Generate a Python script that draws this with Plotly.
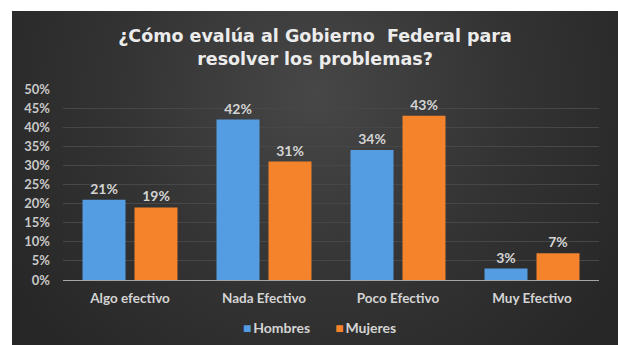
import base64
import plotly.graph_objects as go

categories = ["Algo efectivo", "Nada Efectivo", "Poco Efectivo", "Muy Efectivo"]
hombres = [0.21, 0.42, 0.34, 0.03]
mujeres = [0.19, 0.31, 0.43, 0.07]
tick_vals = [0, 0.05, 0.10, 0.15, 0.20, 0.25, 0.30, 0.35, 0.40, 0.45, 0.50]
tick_text = ["0%", "5%", "10%", "15%", "20%", "25%", "30%", "35%", "40%", "45%", "50%"]
title_lines = ["¿Cómo evalúa al Gobierno  Federal para", "resolver los problemas?"]
series_names = ["Hombres", "Mujeres"]
series_colors = ["#559de3", "#f5832b"]

W, H = 618, 345
ML, MR, MT, MB = 63, 19, 89, 65
PW = W - ML - MR
PH = H - MT - MB
EDGE = "#272727"

def px_x(p):
    return (p - ML) / PW

def px_y(p):
    return (H - MB - p) / PH

svg = (
    f'<svg xmlns="http://www.w3.org/2000/svg" width="{W}" height="{H}" viewBox="0 0 {W} {H}" preserveAspectRatio="none">'
    '<defs><radialGradient id="g" gradientUnits="userSpaceOnUse" cx="315" cy="95" r="360">'
    '<stop offset="0" stop-color="#474747"/><stop offset="0.55" stop-color="#333333"/>'
    f'<stop offset="1" stop-color="{EDGE}"/></radialGradient></defs>'
    f'<rect width="{W}" height="{H}" fill="url(#g)"/></svg>'
)
src = "data:image/svg+xml;base64," + base64.b64encode(svg.encode()).decode()

FONT = "Lato"
LABEL = "#d4d4d4"

fig = go.Figure()
for name, vals, col in zip(series_names, [hombres, mujeres], series_colors):
    fig.add_trace(go.Bar(
        name=name, x=categories, y=vals,
        marker=dict(color=col, line=dict(width=0)),
        text=[f"<b>{round(v*100)}%</b>" for v in vals], textposition="outside",
        textfont=dict(family=FONT, size=14, color=LABEL),
        cliponaxis=False, showlegend=False,
    ))

sep = "&nbsp;" * 7
legend_text = sep.join(
    f"<span style='color:{c}'>■</span>&#8201;<b>{n}</b>" for n, c in zip(series_names, series_colors)
)

fig.update_layout(
    width=W, height=H,
    margin=dict(l=ML, r=MR, t=MT, b=MB),
    paper_bgcolor=EDGE,
    plot_bgcolor="rgba(0,0,0,0)",
    barmode="group", bargap=0.224, bargroupgap=0.173,
    title=dict(text="<b>" + "<br>".join(title_lines) + "</b>", x=315 / W, xanchor="center",
               y=1 - 42 / H, yanchor="top",
               font=dict(family="DejaVu Sans", size=17.5, color="#ececec")),
    annotations=[dict(text=legend_text, xref="paper", yref="paper",
                      x=px_x(319), xanchor="center",
                      y=px_y(327), yanchor="middle", showarrow=False,
                      font=dict(family=FONT, size=14, color=LABEL))],
    images=[dict(source=src, xref="paper", yref="paper",
                 x=px_x(0), y=px_y(0),
                 sizex=W / PW, sizey=H / PH,
                 xanchor="left", yanchor="top", sizing="stretch", layer="below")],
    shapes=[
        dict(type="rect", xref="paper", yref="paper", x0=px_x(-2), x1=px_x(12), y0=px_y(H + 2), y1=px_y(-2),
             fillcolor="white", line=dict(width=0), layer="above"),
        dict(type="rect", xref="paper", yref="paper", x0=px_x(-2), x1=px_x(W + 2), y0=px_y(11), y1=px_y(-2),
             fillcolor="white", line=dict(width=0), layer="above"),
    ],
)
fig.update_yaxes(range=[0, 0.5], tickvals=tick_vals, ticktext=[f"<b>{t}</b>" for t in tick_text],
                 showgrid=True, gridcolor="#474747", gridwidth=1,
                 zeroline=False, showline=False,
                 tickfont=dict(family=FONT, size=13, color="#c8c8c8"), ticks="", ticklabelstandoff=12)
fig.update_xaxes(showline=True, linecolor="#a6a6a6", linewidth=1,
                 tickvals=categories, ticktext=[f"<b>{c}</b>" for c in categories],
                 tickfont=dict(family=FONT, size=13.5, color=LABEL),
                 ticks="", ticklabelstandoff=6)

fig.write_html("out.html")
